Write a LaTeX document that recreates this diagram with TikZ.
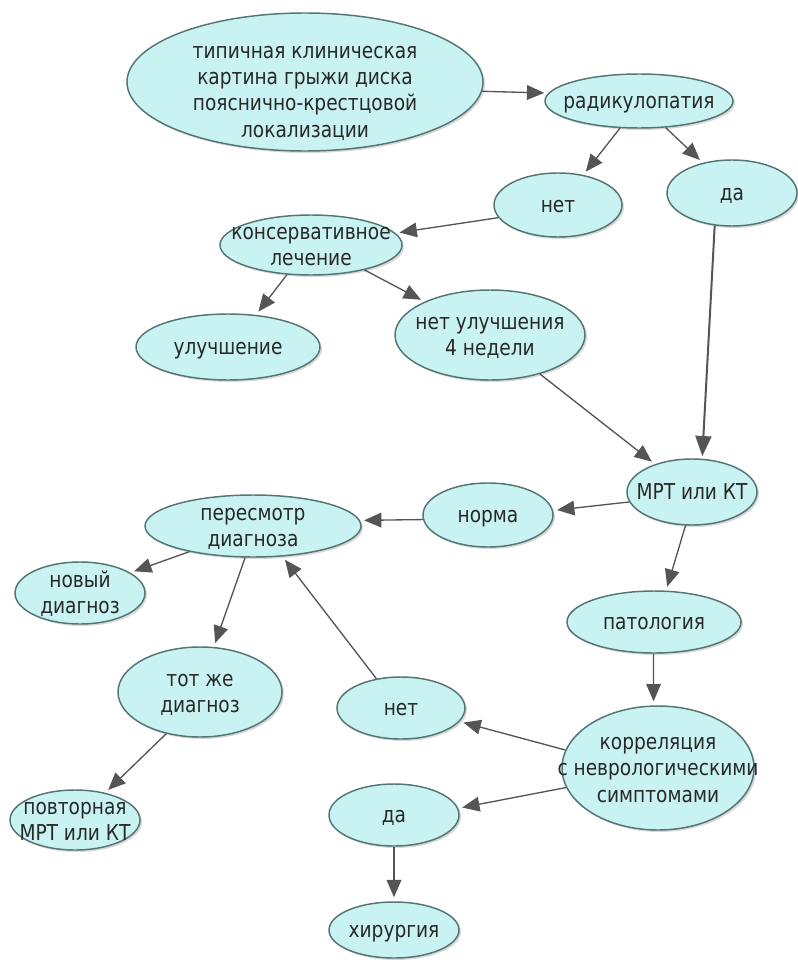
\documentclass[tikz,border=0pt]{standalone}
\usepackage{fontspec}
\setmainfont{DejaVu Sans}[FakeStretch=0.85]
\usetikzlibrary{shapes.geometric,arrows.meta,shadows}
\definecolor{bubfill}{HTML}{C9F3F3}
\definecolor{bubdraw}{HTML}{557575}
\definecolor{txt}{HTML}{282828}
\definecolor{arr}{HTML}{555555}
\newcommand\tx[2][0]{\raisebox{\dimexpr-0.25em-2pt-#1pt\relax}{\makebox[0pt]{\begin{tabular}{@{}c@{}}#2\end{tabular}}}}
\tikzset{
  bub/.style 2 args={ellipse, draw=bubdraw, fill=bubfill, line width=1.1pt,
    minimum width=#1*1.5pt, minimum height=#2*1.5pt, inner sep=0pt,
    text height=0pt, text depth=0pt, text=txt,
    font=\fontsize{16.4}{19.8}\selectfont,
    drop shadow={shadow xshift=1.5pt, shadow yshift=-1.5pt, opacity=0.3, fill=gray}},
  link/.style={draw=arr, line width=1pt, shorten >=3pt,
    -{Triangle[length=13pt,width=11pt]}},
  biglink/.style={draw=arr, line width=1.5pt, shorten >=2pt,
    -{Triangle[length=15pt,width=12pt]}}
}
\begin{document}
\begin{tikzpicture}[x=0.75pt,y=-0.75pt]
\useasboundingbox (0,0) rectangle (798,963);
\node[bub={178}{69}] (typ) at (305,82) {\tx[6]{типичная клиническая\\картина грыжи диска\\пояснично-крестцовой\\локализации}};
\node[bub={94}{27}] (rad) at (639,101) {\tx{радикулопатия}};
\node[bub={64}{32}] (net1) at (558,205) {\tx{нет}};
\node[bub={65}{33}] (da1) at (732,193) {\tx{да}};
\node[bub={91}{30}] (kons) at (311,245) {\tx{консервативное\\лечение}};
\node[bub={92}{33}] (ulu) at (228,347) {\tx{улучшение}};
\node[bub={95}{45}] (netu) at (490,335) {\tx{нет улучшения\\4 недели}};
\node[bub={65}{33}] (mrt) at (692,492) {\tx{МРТ или КТ}};
\node[bub={65}{32}] (norma) at (488,515) {\tx{норма}};
\node[bub={108}{31}] (pere) at (253,526) {\tx{пересмотр\\диагноза}};
\node[bub={65}{31}] (novy) at (80,593) {\tx{новый\\диагноз}};
\node[bub={82}{45}] (tot) at (200,692) {\tx{тот же\\диагноз}};
\node[bub={65}{30}] (povt) at (75,820) {\tx{повторная\\МРТ или КТ}};
\node[bub={64}{31}] (net2) at (401,708) {\tx{нет}};
\node[bub={87}{31}] (pat) at (654,622) {\tx{патология}};
\node[bub={96}{62}] (korr) at (658,768) {\tx{корреляция\\с неврологическими\\симптомами}};
\node[bub={65}{31}] (da2) at (394,815) {\tx{да}};
\node[bub={65}{28}] (hir) at (394,930) {\tx{хирургия}};

\draw[link] (typ.-3.6) -- (rad.175.2);
\draw[link] (rad.-125.2) -- (net1.50.4);
\draw[link] (rad.-45) -- (da1.134);
\draw[link] (net1.-168.9) -- (kons.8.7);
\draw[biglink] (da1.-118.5) -- (mrt.73.6);
\draw[link] (kons.-129.1) -- (ulu.49.8);
\draw[link] (kons.-25.7) -- (netu.153.8);
\draw[link] (netu.-38.4) -- (mrt.143.4);
\draw[link] (mrt.-171.1) -- (norma.4.4);
\draw[link] (norma.184.4) -- (pere.3.2);
\draw[link] (pere.-158.9) -- (novy.22);
\draw[link] (pere.-104) -- (tot.73);
\draw[link] (tot.-129.4) -- (povt.42.3);
\draw[link] (net2.130) -- (pere.-46.8);
\draw[link] (mrt.-101.3) -- (pat.69.3);
\draw[link] (pat.-91.8) -- (korr.94.8);
\draw[link] (korr.169.3) -- (net2.-13.8);
\draw[link] (korr.-168.2) -- (da2.6.9);
\draw[link] (da2.south) -- (hir.north);
\end{tikzpicture}
\end{document}
